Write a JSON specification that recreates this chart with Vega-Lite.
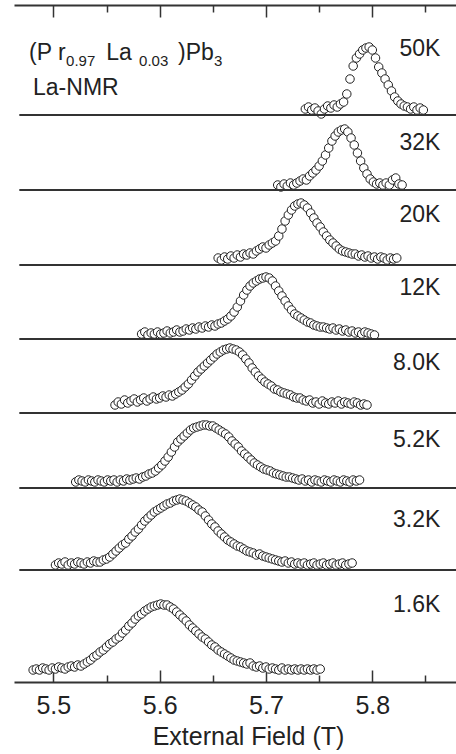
{
  "$schema": "https://vega.github.io/schema/vega-lite/v6.json",
  "width": 442,
  "height": 677,
  "autosize": {"type": "none"},
  "padding": {"left": 14, "top": 5, "right": 0, "bottom": 72},
  "background": "white",
  "config": {
    "view": {"stroke": null},
    "font": "Liberation Sans",
    "axis": {
      "domainColor": "#333333",
      "domainWidth": 2,
      "tickColor": "#333333",
      "tickWidth": 1.5,
      "labelColor": "#222222",
      "titleColor": "#222222",
      "labelFont": "Liberation Sans",
      "titleFont": "Liberation Sans",
      "grid": false
    }
  },
  "resolve": {"axis": {"x": "independent"}},
  "layer": [
    {
      "data": {
        "values": [
          {"t":"50K","B":5.737,"I":573},{"t":"50K","B":5.740,"I":575},{"t":"50K","B":5.743,"I":572},{"t":"50K","B":5.746,"I":574},{"t":"50K","B":5.749,"I":571},{"t":"50K","B":5.752,"I":568},{"t":"50K","B":5.755,"I":573},{"t":"50K","B":5.758,"I":576},{"t":"50K","B":5.761,"I":574},{"t":"50K","B":5.764,"I":577},{"t":"50K","B":5.767,"I":575},{"t":"50K","B":5.770,"I":578},{"t":"50K","B":5.773,"I":580},{"t":"50K","B":5.776,"I":588},{"t":"50K","B":5.779,"I":603},{"t":"50K","B":5.782,"I":616},{"t":"50K","B":5.785,"I":624},{"t":"50K","B":5.788,"I":628},{"t":"50K","B":5.791,"I":632},{"t":"50K","B":5.794,"I":634},{"t":"50K","B":5.797,"I":635},{"t":"50K","B":5.800,"I":632},{"t":"50K","B":5.803,"I":624},{"t":"50K","B":5.806,"I":615},{"t":"50K","B":5.809,"I":609},{"t":"50K","B":5.812,"I":603},{"t":"50K","B":5.815,"I":597},{"t":"50K","B":5.818,"I":591},{"t":"50K","B":5.821,"I":585},{"t":"50K","B":5.824,"I":581},{"t":"50K","B":5.827,"I":578},{"t":"50K","B":5.830,"I":576},{"t":"50K","B":5.833,"I":575},{"t":"50K","B":5.836,"I":573},{"t":"50K","B":5.839,"I":575},{"t":"50K","B":5.842,"I":572},{"t":"50K","B":5.845,"I":574},{"t":"50K","B":5.848,"I":572},
          {"t":"32K","B":5.711,"I":497},{"t":"32K","B":5.714,"I":495},{"t":"32K","B":5.717,"I":498},{"t":"32K","B":5.720,"I":496},{"t":"32K","B":5.723,"I":499},{"t":"32K","B":5.726,"I":497},{"t":"32K","B":5.729,"I":499},{"t":"32K","B":5.732,"I":501},{"t":"32K","B":5.735,"I":503},{"t":"32K","B":5.738,"I":502},{"t":"32K","B":5.741,"I":506},{"t":"32K","B":5.744,"I":509},{"t":"32K","B":5.747,"I":512},{"t":"32K","B":5.750,"I":516},{"t":"32K","B":5.753,"I":521},{"t":"32K","B":5.756,"I":527},{"t":"32K","B":5.759,"I":534},{"t":"32K","B":5.762,"I":541},{"t":"32K","B":5.765,"I":546},{"t":"32K","B":5.768,"I":550},{"t":"32K","B":5.771,"I":552},{"t":"32K","B":5.774,"I":553},{"t":"32K","B":5.777,"I":550},{"t":"32K","B":5.780,"I":544},{"t":"32K","B":5.783,"I":537},{"t":"32K","B":5.786,"I":529},{"t":"32K","B":5.789,"I":521},{"t":"32K","B":5.792,"I":514},{"t":"32K","B":5.795,"I":508},{"t":"32K","B":5.798,"I":503},{"t":"32K","B":5.801,"I":500},{"t":"32K","B":5.804,"I":498},{"t":"32K","B":5.807,"I":499},{"t":"32K","B":5.810,"I":497},{"t":"32K","B":5.813,"I":499},{"t":"32K","B":5.816,"I":497},{"t":"32K","B":5.819,"I":502},{"t":"32K","B":5.822,"I":504},{"t":"32K","B":5.825,"I":498},{"t":"32K","B":5.828,"I":497},
          {"t":"20K","B":5.655,"I":424},{"t":"20K","B":5.658,"I":422},{"t":"20K","B":5.661,"I":425},{"t":"20K","B":5.664,"I":423},{"t":"20K","B":5.667,"I":426},{"t":"20K","B":5.670,"I":424},{"t":"20K","B":5.673,"I":427},{"t":"20K","B":5.676,"I":425},{"t":"20K","B":5.679,"I":428},{"t":"20K","B":5.682,"I":427},{"t":"20K","B":5.685,"I":429},{"t":"20K","B":5.688,"I":428},{"t":"20K","B":5.691,"I":431},{"t":"20K","B":5.694,"I":433},{"t":"20K","B":5.697,"I":435},{"t":"20K","B":5.700,"I":434},{"t":"20K","B":5.703,"I":437},{"t":"20K","B":5.706,"I":439},{"t":"20K","B":5.709,"I":441},{"t":"20K","B":5.712,"I":446},{"t":"20K","B":5.715,"I":453},{"t":"20K","B":5.718,"I":461},{"t":"20K","B":5.721,"I":467},{"t":"20K","B":5.724,"I":472},{"t":"20K","B":5.727,"I":476},{"t":"20K","B":5.730,"I":478},{"t":"20K","B":5.733,"I":479},{"t":"20K","B":5.736,"I":477},{"t":"20K","B":5.739,"I":474},{"t":"20K","B":5.742,"I":469},{"t":"20K","B":5.745,"I":464},{"t":"20K","B":5.748,"I":459},{"t":"20K","B":5.751,"I":455},{"t":"20K","B":5.754,"I":450},{"t":"20K","B":5.757,"I":446},{"t":"20K","B":5.760,"I":442},{"t":"20K","B":5.763,"I":439},{"t":"20K","B":5.766,"I":436},{"t":"20K","B":5.769,"I":433},{"t":"20K","B":5.772,"I":431},{"t":"20K","B":5.775,"I":430},{"t":"20K","B":5.778,"I":429},{"t":"20K","B":5.781,"I":428},{"t":"20K","B":5.784,"I":428},{"t":"20K","B":5.787,"I":426},{"t":"20K","B":5.790,"I":427},{"t":"20K","B":5.793,"I":425},{"t":"20K","B":5.796,"I":426},{"t":"20K","B":5.799,"I":424},{"t":"20K","B":5.802,"I":425},{"t":"20K","B":5.805,"I":423},{"t":"20K","B":5.808,"I":425},{"t":"20K","B":5.811,"I":424},{"t":"20K","B":5.814,"I":422},{"t":"20K","B":5.817,"I":424},{"t":"20K","B":5.820,"I":423},{"t":"20K","B":5.823,"I":424},
          {"t":"12K","B":5.583,"I":348},{"t":"12K","B":5.586,"I":350},{"t":"12K","B":5.589,"I":347},{"t":"12K","B":5.592,"I":349},{"t":"12K","B":5.595,"I":348},{"t":"12K","B":5.598,"I":350},{"t":"12K","B":5.601,"I":348},{"t":"12K","B":5.604,"I":349},{"t":"12K","B":5.607,"I":351},{"t":"12K","B":5.610,"I":349},{"t":"12K","B":5.613,"I":350},{"t":"12K","B":5.616,"I":352},{"t":"12K","B":5.619,"I":350},{"t":"12K","B":5.622,"I":351},{"t":"12K","B":5.625,"I":353},{"t":"12K","B":5.628,"I":352},{"t":"12K","B":5.631,"I":354},{"t":"12K","B":5.634,"I":353},{"t":"12K","B":5.637,"I":355},{"t":"12K","B":5.640,"I":354},{"t":"12K","B":5.643,"I":356},{"t":"12K","B":5.646,"I":355},{"t":"12K","B":5.649,"I":357},{"t":"12K","B":5.652,"I":356},{"t":"12K","B":5.655,"I":358},{"t":"12K","B":5.658,"I":359},{"t":"12K","B":5.661,"I":361},{"t":"12K","B":5.664,"I":363},{"t":"12K","B":5.667,"I":366},{"t":"12K","B":5.670,"I":370},{"t":"12K","B":5.673,"I":375},{"t":"12K","B":5.676,"I":381},{"t":"12K","B":5.679,"I":387},{"t":"12K","B":5.682,"I":392},{"t":"12K","B":5.685,"I":396},{"t":"12K","B":5.688,"I":399},{"t":"12K","B":5.691,"I":401},{"t":"12K","B":5.694,"I":403},{"t":"12K","B":5.697,"I":404},{"t":"12K","B":5.700,"I":405},{"t":"12K","B":5.703,"I":404},{"t":"12K","B":5.706,"I":401},{"t":"12K","B":5.709,"I":396},{"t":"12K","B":5.712,"I":391},{"t":"12K","B":5.715,"I":386},{"t":"12K","B":5.718,"I":381},{"t":"12K","B":5.721,"I":376},{"t":"12K","B":5.724,"I":372},{"t":"12K","B":5.727,"I":368},{"t":"12K","B":5.730,"I":366},{"t":"12K","B":5.733,"I":364},{"t":"12K","B":5.736,"I":362},{"t":"12K","B":5.739,"I":360},{"t":"12K","B":5.742,"I":359},{"t":"12K","B":5.745,"I":357},{"t":"12K","B":5.748,"I":356},{"t":"12K","B":5.751,"I":355},{"t":"12K","B":5.754,"I":355},{"t":"12K","B":5.757,"I":354},{"t":"12K","B":5.760,"I":353},{"t":"12K","B":5.763,"I":354},{"t":"12K","B":5.766,"I":352},{"t":"12K","B":5.769,"I":353},{"t":"12K","B":5.772,"I":351},{"t":"12K","B":5.775,"I":352},{"t":"12K","B":5.778,"I":350},{"t":"12K","B":5.781,"I":351},{"t":"12K","B":5.784,"I":349},{"t":"12K","B":5.787,"I":350},{"t":"12K","B":5.790,"I":348},{"t":"12K","B":5.793,"I":350},{"t":"12K","B":5.796,"I":349},{"t":"12K","B":5.799,"I":348},{"t":"12K","B":5.802,"I":347},
          {"t":"8.0K","B":5.558,"I":277},{"t":"8.0K","B":5.561,"I":280},{"t":"8.0K","B":5.564,"I":278},{"t":"8.0K","B":5.567,"I":282},{"t":"8.0K","B":5.570,"I":279},{"t":"8.0K","B":5.573,"I":281},{"t":"8.0K","B":5.576,"I":283},{"t":"8.0K","B":5.579,"I":280},{"t":"8.0K","B":5.582,"I":282},{"t":"8.0K","B":5.585,"I":284},{"t":"8.0K","B":5.588,"I":281},{"t":"8.0K","B":5.591,"I":283},{"t":"8.0K","B":5.594,"I":285},{"t":"8.0K","B":5.597,"I":283},{"t":"8.0K","B":5.600,"I":284},{"t":"8.0K","B":5.603,"I":286},{"t":"8.0K","B":5.606,"I":285},{"t":"8.0K","B":5.609,"I":287},{"t":"8.0K","B":5.612,"I":286},{"t":"8.0K","B":5.615,"I":288},{"t":"8.0K","B":5.618,"I":290},{"t":"8.0K","B":5.621,"I":292},{"t":"8.0K","B":5.624,"I":295},{"t":"8.0K","B":5.627,"I":298},{"t":"8.0K","B":5.630,"I":302},{"t":"8.0K","B":5.633,"I":306},{"t":"8.0K","B":5.636,"I":310},{"t":"8.0K","B":5.639,"I":313},{"t":"8.0K","B":5.642,"I":316},{"t":"8.0K","B":5.645,"I":319},{"t":"8.0K","B":5.648,"I":322},{"t":"8.0K","B":5.651,"I":325},{"t":"8.0K","B":5.654,"I":328},{"t":"8.0K","B":5.657,"I":330},{"t":"8.0K","B":5.660,"I":332},{"t":"8.0K","B":5.663,"I":333},{"t":"8.0K","B":5.666,"I":334},{"t":"8.0K","B":5.669,"I":333},{"t":"8.0K","B":5.672,"I":332},{"t":"8.0K","B":5.675,"I":330},{"t":"8.0K","B":5.678,"I":327},{"t":"8.0K","B":5.681,"I":323},{"t":"8.0K","B":5.684,"I":319},{"t":"8.0K","B":5.687,"I":314},{"t":"8.0K","B":5.690,"I":310},{"t":"8.0K","B":5.693,"I":306},{"t":"8.0K","B":5.696,"I":303},{"t":"8.0K","B":5.699,"I":300},{"t":"8.0K","B":5.702,"I":298},{"t":"8.0K","B":5.705,"I":296},{"t":"8.0K","B":5.708,"I":293},{"t":"8.0K","B":5.711,"I":292},{"t":"8.0K","B":5.714,"I":290},{"t":"8.0K","B":5.717,"I":289},{"t":"8.0K","B":5.720,"I":288},{"t":"8.0K","B":5.723,"I":287},{"t":"8.0K","B":5.726,"I":285},{"t":"8.0K","B":5.729,"I":284},{"t":"8.0K","B":5.732,"I":284},{"t":"8.0K","B":5.735,"I":282},{"t":"8.0K","B":5.738,"I":281},{"t":"8.0K","B":5.741,"I":282},{"t":"8.0K","B":5.744,"I":279},{"t":"8.0K","B":5.747,"I":280},{"t":"8.0K","B":5.750,"I":278},{"t":"8.0K","B":5.753,"I":281},{"t":"8.0K","B":5.756,"I":279},{"t":"8.0K","B":5.759,"I":278},{"t":"8.0K","B":5.762,"I":280},{"t":"8.0K","B":5.765,"I":279},{"t":"8.0K","B":5.768,"I":281},{"t":"8.0K","B":5.771,"I":278},{"t":"8.0K","B":5.774,"I":280},{"t":"8.0K","B":5.777,"I":279},{"t":"8.0K","B":5.780,"I":278},{"t":"8.0K","B":5.783,"I":280},{"t":"8.0K","B":5.786,"I":279},{"t":"8.0K","B":5.789,"I":277},{"t":"8.0K","B":5.792,"I":278},{"t":"8.0K","B":5.795,"I":277},
          {"t":"5.2K","B":5.521,"I":200},{"t":"5.2K","B":5.524,"I":202},{"t":"5.2K","B":5.527,"I":201},{"t":"5.2K","B":5.530,"I":200},{"t":"5.2K","B":5.533,"I":202},{"t":"5.2K","B":5.536,"I":201},{"t":"5.2K","B":5.539,"I":200},{"t":"5.2K","B":5.542,"I":202},{"t":"5.2K","B":5.545,"I":201},{"t":"5.2K","B":5.548,"I":200},{"t":"5.2K","B":5.551,"I":202},{"t":"5.2K","B":5.554,"I":201},{"t":"5.2K","B":5.557,"I":202},{"t":"5.2K","B":5.560,"I":200},{"t":"5.2K","B":5.563,"I":202},{"t":"5.2K","B":5.566,"I":201},{"t":"5.2K","B":5.569,"I":203},{"t":"5.2K","B":5.572,"I":202},{"t":"5.2K","B":5.575,"I":203},{"t":"5.2K","B":5.578,"I":204},{"t":"5.2K","B":5.581,"I":203},{"t":"5.2K","B":5.584,"I":205},{"t":"5.2K","B":5.587,"I":206},{"t":"5.2K","B":5.590,"I":208},{"t":"5.2K","B":5.593,"I":209},{"t":"5.2K","B":5.596,"I":211},{"t":"5.2K","B":5.599,"I":214},{"t":"5.2K","B":5.602,"I":217},{"t":"5.2K","B":5.605,"I":221},{"t":"5.2K","B":5.608,"I":225},{"t":"5.2K","B":5.611,"I":230},{"t":"5.2K","B":5.614,"I":235},{"t":"5.2K","B":5.617,"I":240},{"t":"5.2K","B":5.620,"I":243},{"t":"5.2K","B":5.623,"I":246},{"t":"5.2K","B":5.626,"I":249},{"t":"5.2K","B":5.629,"I":252},{"t":"5.2K","B":5.632,"I":254},{"t":"5.2K","B":5.635,"I":255},{"t":"5.2K","B":5.638,"I":256},{"t":"5.2K","B":5.641,"I":257},{"t":"5.2K","B":5.644,"I":257},{"t":"5.2K","B":5.647,"I":256},{"t":"5.2K","B":5.650,"I":256},{"t":"5.2K","B":5.653,"I":254},{"t":"5.2K","B":5.656,"I":252},{"t":"5.2K","B":5.659,"I":250},{"t":"5.2K","B":5.662,"I":248},{"t":"5.2K","B":5.665,"I":245},{"t":"5.2K","B":5.668,"I":241},{"t":"5.2K","B":5.671,"I":238},{"t":"5.2K","B":5.674,"I":235},{"t":"5.2K","B":5.677,"I":231},{"t":"5.2K","B":5.680,"I":228},{"t":"5.2K","B":5.683,"I":225},{"t":"5.2K","B":5.686,"I":222},{"t":"5.2K","B":5.689,"I":219},{"t":"5.2K","B":5.692,"I":217},{"t":"5.2K","B":5.695,"I":215},{"t":"5.2K","B":5.698,"I":213},{"t":"5.2K","B":5.701,"I":212},{"t":"5.2K","B":5.704,"I":211},{"t":"5.2K","B":5.707,"I":209},{"t":"5.2K","B":5.710,"I":208},{"t":"5.2K","B":5.713,"I":207},{"t":"5.2K","B":5.716,"I":206},{"t":"5.2K","B":5.719,"I":205},{"t":"5.2K","B":5.722,"I":205},{"t":"5.2K","B":5.725,"I":204},{"t":"5.2K","B":5.728,"I":203},{"t":"5.2K","B":5.731,"I":202},{"t":"5.2K","B":5.734,"I":203},{"t":"5.2K","B":5.737,"I":201},{"t":"5.2K","B":5.740,"I":202},{"t":"5.2K","B":5.743,"I":200},{"t":"5.2K","B":5.746,"I":202},{"t":"5.2K","B":5.749,"I":201},{"t":"5.2K","B":5.752,"I":200},{"t":"5.2K","B":5.755,"I":202},{"t":"5.2K","B":5.758,"I":201},{"t":"5.2K","B":5.761,"I":200},{"t":"5.2K","B":5.764,"I":202},{"t":"5.2K","B":5.767,"I":201},{"t":"5.2K","B":5.770,"I":200},{"t":"5.2K","B":5.773,"I":202},{"t":"5.2K","B":5.776,"I":201},{"t":"5.2K","B":5.779,"I":200},{"t":"5.2K","B":5.782,"I":202},{"t":"5.2K","B":5.785,"I":201},{"t":"5.2K","B":5.788,"I":202},
          {"t":"3.2K","B":5.502,"I":117},{"t":"3.2K","B":5.505,"I":119},{"t":"3.2K","B":5.508,"I":118},{"t":"3.2K","B":5.511,"I":120},{"t":"3.2K","B":5.514,"I":117},{"t":"3.2K","B":5.517,"I":119},{"t":"3.2K","B":5.520,"I":118},{"t":"3.2K","B":5.523,"I":120},{"t":"3.2K","B":5.526,"I":119},{"t":"3.2K","B":5.529,"I":118},{"t":"3.2K","B":5.532,"I":120},{"t":"3.2K","B":5.535,"I":119},{"t":"3.2K","B":5.538,"I":121},{"t":"3.2K","B":5.541,"I":120},{"t":"3.2K","B":5.544,"I":120},{"t":"3.2K","B":5.547,"I":122},{"t":"3.2K","B":5.550,"I":123},{"t":"3.2K","B":5.553,"I":125},{"t":"3.2K","B":5.556,"I":128},{"t":"3.2K","B":5.559,"I":131},{"t":"3.2K","B":5.562,"I":134},{"t":"3.2K","B":5.565,"I":137},{"t":"3.2K","B":5.568,"I":139},{"t":"3.2K","B":5.571,"I":143},{"t":"3.2K","B":5.574,"I":146},{"t":"3.2K","B":5.577,"I":150},{"t":"3.2K","B":5.580,"I":153},{"t":"3.2K","B":5.583,"I":157},{"t":"3.2K","B":5.586,"I":161},{"t":"3.2K","B":5.589,"I":164},{"t":"3.2K","B":5.592,"I":167},{"t":"3.2K","B":5.595,"I":170},{"t":"3.2K","B":5.598,"I":172},{"t":"3.2K","B":5.601,"I":174},{"t":"3.2K","B":5.604,"I":176},{"t":"3.2K","B":5.607,"I":178},{"t":"3.2K","B":5.610,"I":179},{"t":"3.2K","B":5.613,"I":181},{"t":"3.2K","B":5.616,"I":182},{"t":"3.2K","B":5.619,"I":183},{"t":"3.2K","B":5.622,"I":182},{"t":"3.2K","B":5.625,"I":181},{"t":"3.2K","B":5.628,"I":179},{"t":"3.2K","B":5.631,"I":177},{"t":"3.2K","B":5.634,"I":175},{"t":"3.2K","B":5.637,"I":172},{"t":"3.2K","B":5.640,"I":170},{"t":"3.2K","B":5.643,"I":166},{"t":"3.2K","B":5.646,"I":162},{"t":"3.2K","B":5.649,"I":158},{"t":"3.2K","B":5.652,"I":155},{"t":"3.2K","B":5.655,"I":151},{"t":"3.2K","B":5.658,"I":148},{"t":"3.2K","B":5.661,"I":145},{"t":"3.2K","B":5.664,"I":142},{"t":"3.2K","B":5.667,"I":140},{"t":"3.2K","B":5.670,"I":138},{"t":"3.2K","B":5.673,"I":136},{"t":"3.2K","B":5.676,"I":135},{"t":"3.2K","B":5.679,"I":133},{"t":"3.2K","B":5.682,"I":131},{"t":"3.2K","B":5.685,"I":130},{"t":"3.2K","B":5.688,"I":129},{"t":"3.2K","B":5.691,"I":127},{"t":"3.2K","B":5.694,"I":128},{"t":"3.2K","B":5.697,"I":126},{"t":"3.2K","B":5.700,"I":125},{"t":"3.2K","B":5.703,"I":124},{"t":"3.2K","B":5.706,"I":123},{"t":"3.2K","B":5.709,"I":122},{"t":"3.2K","B":5.712,"I":121},{"t":"3.2K","B":5.715,"I":120},{"t":"3.2K","B":5.718,"I":121},{"t":"3.2K","B":5.721,"I":119},{"t":"3.2K","B":5.724,"I":120},{"t":"3.2K","B":5.727,"I":118},{"t":"3.2K","B":5.730,"I":119},{"t":"3.2K","B":5.733,"I":118},{"t":"3.2K","B":5.736,"I":119},{"t":"3.2K","B":5.739,"I":117},{"t":"3.2K","B":5.742,"I":118},{"t":"3.2K","B":5.745,"I":119},{"t":"3.2K","B":5.748,"I":117},{"t":"3.2K","B":5.751,"I":118},{"t":"3.2K","B":5.754,"I":119},{"t":"3.2K","B":5.757,"I":117},{"t":"3.2K","B":5.760,"I":118},{"t":"3.2K","B":5.763,"I":119},{"t":"3.2K","B":5.766,"I":117},{"t":"3.2K","B":5.769,"I":118},{"t":"3.2K","B":5.772,"I":119},{"t":"3.2K","B":5.775,"I":117},{"t":"3.2K","B":5.778,"I":118},{"t":"3.2K","B":5.781,"I":119},
          {"t":"1.6K","B":5.481,"I":12},{"t":"1.6K","B":5.484,"I":13},{"t":"1.6K","B":5.487,"I":12},{"t":"1.6K","B":5.490,"I":14},{"t":"1.6K","B":5.493,"I":13},{"t":"1.6K","B":5.496,"I":12},{"t":"1.6K","B":5.499,"I":14},{"t":"1.6K","B":5.502,"I":13},{"t":"1.6K","B":5.505,"I":15},{"t":"1.6K","B":5.508,"I":14},{"t":"1.6K","B":5.511,"I":13},{"t":"1.6K","B":5.514,"I":15},{"t":"1.6K","B":5.517,"I":16},{"t":"1.6K","B":5.520,"I":15},{"t":"1.6K","B":5.523,"I":17},{"t":"1.6K","B":5.526,"I":16},{"t":"1.6K","B":5.529,"I":18},{"t":"1.6K","B":5.532,"I":20},{"t":"1.6K","B":5.535,"I":22},{"t":"1.6K","B":5.538,"I":25},{"t":"1.6K","B":5.541,"I":27},{"t":"1.6K","B":5.544,"I":30},{"t":"1.6K","B":5.547,"I":32},{"t":"1.6K","B":5.550,"I":35},{"t":"1.6K","B":5.553,"I":38},{"t":"1.6K","B":5.556,"I":40},{"t":"1.6K","B":5.559,"I":43},{"t":"1.6K","B":5.562,"I":45},{"t":"1.6K","B":5.565,"I":49},{"t":"1.6K","B":5.568,"I":52},{"t":"1.6K","B":5.571,"I":56},{"t":"1.6K","B":5.574,"I":59},{"t":"1.6K","B":5.577,"I":63},{"t":"1.6K","B":5.580,"I":66},{"t":"1.6K","B":5.583,"I":68},{"t":"1.6K","B":5.586,"I":71},{"t":"1.6K","B":5.589,"I":73},{"t":"1.6K","B":5.592,"I":75},{"t":"1.6K","B":5.595,"I":76},{"t":"1.6K","B":5.598,"I":77},{"t":"1.6K","B":5.601,"I":78},{"t":"1.6K","B":5.604,"I":77},{"t":"1.6K","B":5.607,"I":77},{"t":"1.6K","B":5.610,"I":75},{"t":"1.6K","B":5.613,"I":73},{"t":"1.6K","B":5.616,"I":70},{"t":"1.6K","B":5.619,"I":67},{"t":"1.6K","B":5.622,"I":64},{"t":"1.6K","B":5.625,"I":61},{"t":"1.6K","B":5.628,"I":57},{"t":"1.6K","B":5.631,"I":54},{"t":"1.6K","B":5.634,"I":51},{"t":"1.6K","B":5.637,"I":48},{"t":"1.6K","B":5.640,"I":45},{"t":"1.6K","B":5.643,"I":43},{"t":"1.6K","B":5.646,"I":40},{"t":"1.6K","B":5.649,"I":37},{"t":"1.6K","B":5.652,"I":35},{"t":"1.6K","B":5.655,"I":32},{"t":"1.6K","B":5.658,"I":30},{"t":"1.6K","B":5.661,"I":28},{"t":"1.6K","B":5.664,"I":26},{"t":"1.6K","B":5.667,"I":24},{"t":"1.6K","B":5.670,"I":22},{"t":"1.6K","B":5.673,"I":21},{"t":"1.6K","B":5.676,"I":20},{"t":"1.6K","B":5.679,"I":19},{"t":"1.6K","B":5.682,"I":18},{"t":"1.6K","B":5.685,"I":19},{"t":"1.6K","B":5.688,"I":16},{"t":"1.6K","B":5.691,"I":15},{"t":"1.6K","B":5.694,"I":16},{"t":"1.6K","B":5.697,"I":14},{"t":"1.6K","B":5.700,"I":15},{"t":"1.6K","B":5.703,"I":13},{"t":"1.6K","B":5.706,"I":14},{"t":"1.6K","B":5.709,"I":13},{"t":"1.6K","B":5.712,"I":12},{"t":"1.6K","B":5.715,"I":14},{"t":"1.6K","B":5.718,"I":12},{"t":"1.6K","B":5.721,"I":13},{"t":"1.6K","B":5.724,"I":12},{"t":"1.6K","B":5.727,"I":13},{"t":"1.6K","B":5.730,"I":12},{"t":"1.6K","B":5.733,"I":13},{"t":"1.6K","B":5.736,"I":12},{"t":"1.6K","B":5.739,"I":13},{"t":"1.6K","B":5.742,"I":12},{"t":"1.6K","B":5.745,"I":13},{"t":"1.6K","B":5.748,"I":12},{"t":"1.6K","B":5.751,"I":13}
        ]
      },
      "mark": {"type": "point", "shape": "circle", "size": 72, "fill": "white", "stroke": "#222222", "strokeWidth": 1, "opacity": 1},
      "encoding": {
        "x": {
          "field": "B",
          "type": "quantitative",
          "scale": {"domain": [5.463, 5.8787], "nice": false, "zero": false},
          "axis": {
            "orient": "bottom",
            "values": [5.5, 5.6, 5.7, 5.8],
            "format": ".1f",
            "ticks": false,
            "labelPadding": 11,
            "labelFontSize": 25,
            "labelFlush": false,
            "title": "External Field (T)",
            "titleFontSize": 25,
            "titleFontWeight": "normal",
            "titlePadding": 6,
            "titleX": 234
          }
        },
        "y": {
          "field": "I",
          "type": "quantitative",
          "scale": {"domain": [0, 677], "nice": false, "zero": false},
          "axis": {"orient": "left", "ticks": false, "labels": false, "title": null, "domain": true}
        }
      }
    },
    {
      "data": {"values": [{"y": 567}, {"y": 492}, {"y": 417}, {"y": 343}, {"y": 269}, {"y": 194}, {"y": 112}]},
      "mark": {"type": "rule", "color": "#333333", "strokeWidth": 2},
      "encoding": {
        "x": {
          "datum": 5.468,
          "type": "quantitative",
          "axis": {"orient": "top", "ticks": false, "labels": false, "title": null, "domain": true}
        },
        "x2": {"datum": 5.8787},
        "y": {"field": "y", "type": "quantitative", "axis": null}
      }
    },
    {
      "data": {
        "values": [
          {"label": "50K", "y": 633}, {"label": "32K", "y": 539}, {"label": "20K", "y": 467}, {"label": "12K", "y": 394},
          {"label": "8.0K", "y": 319}, {"label": "5.2K", "y": 242}, {"label": "3.2K", "y": 162}, {"label": "1.6K", "y": 77}
        ]
      },
      "mark": {"type": "text", "align": "right", "baseline": "middle", "fontSize": 23, "color": "#222222"},
      "encoding": {
        "x": {
          "datum": 5.864,
          "type": "quantitative",
          "axis": {"orient": "bottom", "values": [5.5, 5.6, 5.7, 5.8], "tickSize": 12, "offset": -12, "labels": false, "title": null, "domain": false}
        },
        "y": {"field": "y", "type": "quantitative", "axis": null},
        "text": {"field": "label"}
      }
    },
    {
      "data": {
        "values": [
          {"s": "(P r", "x": 5.4771, "y": 622},
          {"s": "La", "x": 5.5497, "y": 622},
          {"s": ")Pb", "x": 5.6173, "y": 622}
        ]
      },
      "mark": {"type": "text", "align": "left", "baseline": "alphabetic", "fontSize": 23, "color": "#222222"},
      "encoding": {
        "x": {
          "field": "x",
          "type": "quantitative",
          "axis": {"orient": "top", "values": [5.5, 5.6, 5.7, 5.8], "tickSize": 12, "offset": -12, "labels": false, "title": null, "domain": false}
        },
        "y": {"field": "y", "type": "quantitative", "axis": null},
        "text": {"field": "s"}
      }
    },
    {
      "data": {"values": [{"s": "La-NMR", "x": 5.4809, "y": 587}]},
      "mark": {"type": "text", "align": "left", "baseline": "alphabetic", "fontSize": 23, "color": "#222222"},
      "encoding": {
        "x": {
          "field": "x",
          "type": "quantitative",
          "axis": {"orient": "bottom", "values": [5.55, 5.65, 5.75, 5.85], "tickSize": 7, "offset": -7, "labels": false, "title": null, "domain": false}
        },
        "y": {"field": "y", "type": "quantitative", "axis": null},
        "text": {"field": "s"}
      }
    },
    {
      "data": {
        "values": [
          {"s": "0.97", "x": 5.512, "y": 616},
          {"s": "0.03", "x": 5.5806, "y": 616},
          {"s": "3", "x": 5.651, "y": 616}
        ]
      },
      "mark": {"type": "text", "align": "left", "baseline": "alphabetic", "fontSize": 15, "color": "#222222"},
      "encoding": {
        "x": {
          "field": "x",
          "type": "quantitative",
          "axis": {"orient": "top", "values": [5.55, 5.65, 5.75, 5.85], "tickSize": 7, "offset": -7, "labels": false, "title": null, "domain": false}
        },
        "y": {"field": "y", "type": "quantitative", "axis": null},
        "text": {"field": "s"}
      }
    }
  ]
}
